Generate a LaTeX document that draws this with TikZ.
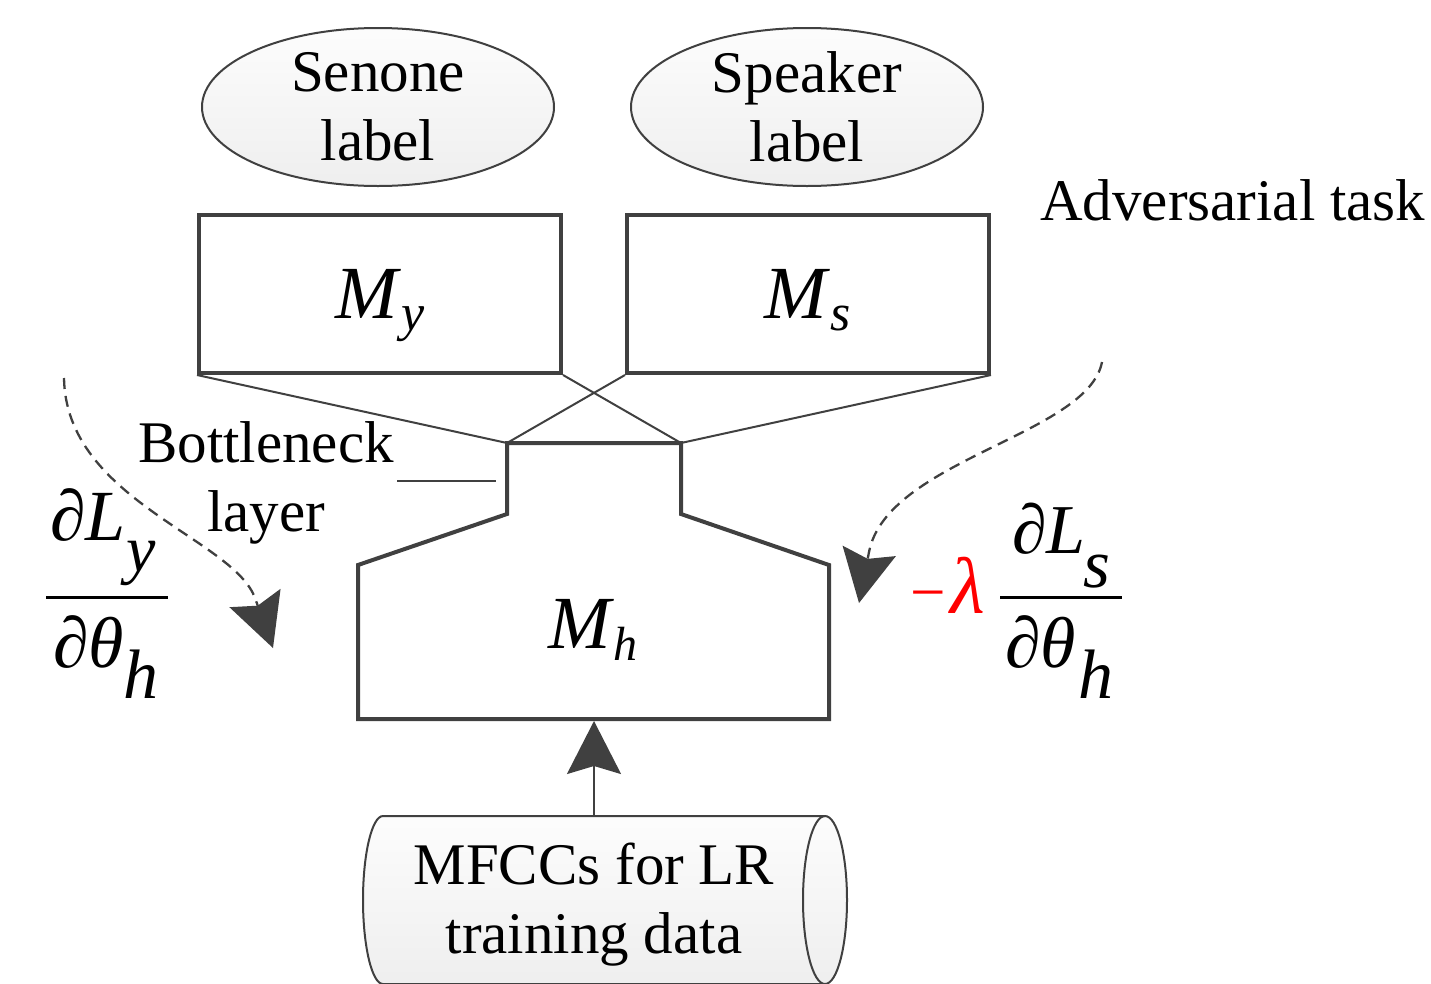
\documentclass[tikz,border=0pt]{standalone}
\usepackage{fontspec}
\setmainfont{Liberation Serif}
\usetikzlibrary{shapes.geometric,arrows.meta}
\definecolor{ink}{HTML}{404040}
\newcommand\sz[1]{\fontsize{#1}{#1}\selectfont}
\begin{document}
\begin{tikzpicture}[x=1pt,y=-1pt,
  txt/.style={font=\fontsize{59}{69}\selectfont, align=center, inner sep=0pt},
  mth/.style={inner sep=0pt, anchor=base west},
  mlab/.style={inner sep=0pt, anchor=base},
  rim/.style={draw=ink, line width=4pt, line join=miter},
  thinline/.style={draw=ink, line width=2pt},
  softfill/.style={top color=gray!2, bottom color=gray!13},
  labell/.style={ellipse, draw=ink, line width=2pt, softfill,
    minimum width=352pt, minimum height=158pt, inner sep=0pt},
  mbox/.style={rectangle, rim, fill=white, minimum width=362pt,
    minimum height=158pt, inner sep=0pt},
  bigtip/.style={-{Stealth[length=53pt, width=54pt, inset=8pt]}},
  grad/.style={draw=ink, line width=2.3pt, dash pattern=on 11pt off 7pt, bigtip},
  fracbar/.style={draw=black, line width=3pt}]
\useasboundingbox (0,0) rectangle (1431,983);
\clip (0,0) rectangle (1431,983);

% label ellipses
\node[labell, label={[txt]center:Senone\\label}] (sen) at (378,107) {};
\node[labell, label={[txt]center:Speaker\\label}] (spk) at (807,107) {};

% task-specific sub-networks
\node[mbox] (My) at (380,294) {};
\node[mbox] (Ms) at (808,294) {};
\node[mlab] (myT) at (380,318) {\sz{75}\textit{M}\raisebox{-12pt}{\sz{52}\textit{y}}};
\node[mlab] (msT) at (808,318) {\sz{75}\textit{M}\raisebox{-12pt}{\sz{52}\textit{s}}};

% shared network M_h with its bottleneck
\coordinate (bnL) at (507,443);
\coordinate (bnR) at (681,443);
\coordinate (mhB) at (594,721);
\draw[thinline] (My.south west) -- (bnL);
\draw[thinline] (My.south east) -- (bnR);
\draw[thinline] (Ms.south west) -- (bnL);
\draw[thinline] (Ms.south east) -- (bnR);
\draw[rim] (bnL) -- (bnR) -- (681,514) -- (829,565) -- (829,719)
  -- (358,719) -- (358,565) -- (507,514) -- cycle;
\node[mlab] (mhT) at (593,648) {\sz{75}\textit{M}\raisebox{-12pt}{\sz{48}\textit{h}}};

% bottleneck annotation
\node[txt] (bneck) at (266,482.5) {Bottleneck\\layer};
\coordinate (bnA) at (397,481);
\coordinate (bnB) at (496,481);
\draw[thinline] (bnA) -- (bnB);

% input data store
\draw[thinline, softfill]
  (383,816) -- (825,816)
  .. controls (837.15,816) and (847,853.6) .. (847,900)
  .. controls (847,946.4) and (837.15,984) .. (825,984)
  -- (383,984)
  .. controls (372,984) and (363,946.4) .. (363,900)
  .. controls (363,853.6) and (372,816) .. (383,816) -- cycle;
\draw[thinline]
  (825,816) .. controls (812.85,816) and (803,853.6) .. (803,900)
  .. controls (803,946.4) and (812.85,984) .. (825,984);
\node[txt] (cyl) at (594,904.5) {MFCCs for LR\\training data};
\coordinate (cyltop) at (594,816);
\draw[draw=ink, line width=2pt, bigtip] (cyltop) -- (mhB);

% gradient of the senone loss
\coordinate (gyA) at (64,378);
\coordinate (gyB) at (255,598);
\coordinate (gyC) at (273,648);
\draw[grad] (gyA) .. controls (66,500) and (233,538) .. (gyB) -- (gyC);
\node[mth] (nyL) at (50,540) {\sz{72}\textit{∂L}};
\node[mth] (nyS) at (126,571) {\sz{66}\textit{y}};
\draw[fracbar] (46,597) -- (168,597);
\node[mth] (dyT) at (53,667) {\sz{72}\textit{∂θ}};
\node[mth] (dyS) at (123,698) {\sz{70}\textit{h}};

% reversed gradient of the speaker loss
\node[txt, anchor=base west] (adv) at (1040,220) {Adversarial task};
\coordinate (gsA) at (1102,362);
\coordinate (gsB) at (869,552);
\coordinate (gsC) at (859,603);
\draw[grad] (gsA) .. controls (1088,435) and (887,460) .. (gsB) -- (gsC);
\node[mth, text=red] (lam) at (910,613) {\sz{63}−\kern5pt\sz{80}\textit{λ}};
\node[mth] (nsL) at (1012,553) {\sz{70}\textit{∂L}};
\node[mth] (nsS) at (1083,587) {\sz{69}\textit{s}};
\draw[fracbar] (1000,597) -- (1122,597);
\node[mth] (dsT) at (1005,667) {\sz{72}\textit{∂θ}};
\node[mth] (dsS) at (1078,698) {\sz{70}\textit{h}};
\end{tikzpicture}
\end{document}
